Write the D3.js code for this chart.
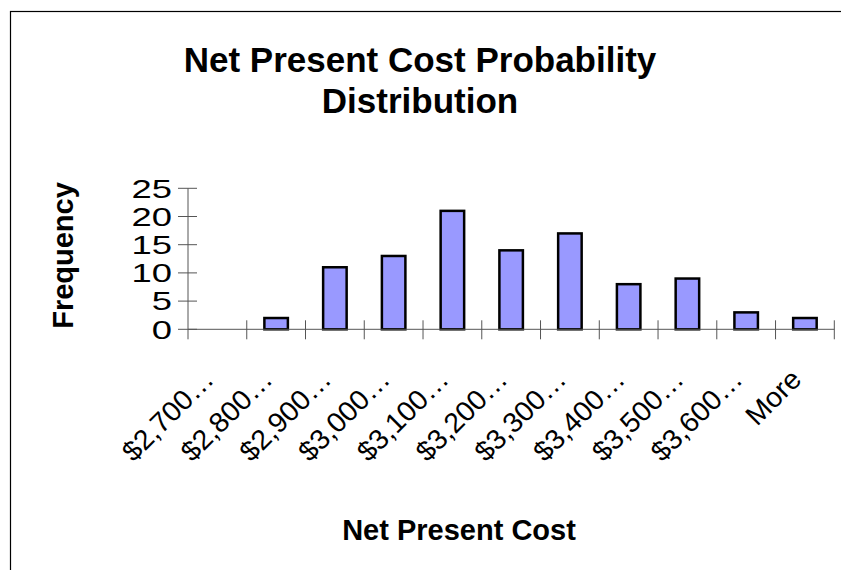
<!DOCTYPE html>
<html>
<head>
<meta charset="utf-8">
<script src="https://cdn.jsdelivr.net/npm/d3@7/dist/d3.min.js"></script>
<style>
  html, body { margin: 0; padding: 0; background: #fff; }
  svg { display: block; font-family: "Liberation Sans", Arial, sans-serif; }
</style>
</head>
<body>
<svg id="chart" width="841" height="570"></svg>
<script>
// Histogram bins (upper bound of each bin) and their counts
const bins = ["$2,700…", "$2,800…", "$2,900…", "$3,000…", "$3,100…", "$3,200…",
              "$3,300…", "$3,400…", "$3,500…", "$3,600…", "More"];
const frequency = [0, 2, 11, 13, 21, 14, 17, 8, 9, 3, 2];
const yTicks = [0, 5, 10, 15, 20, 25];
const titleLines = ["Net Present Cost Probability", "Distribution"];
const xTitle = "Net Present Cost";
const yTitle = "Frequency";

const svg = d3.select("#chart");

// chart area border (runs off the right and bottom edges)
svg.append("rect")
  .attr("x", 10.5).attr("y", 11.5)
  .attr("width", 900).attr("height", 700)
  .attr("fill", "none").attr("stroke", "#000").attr("stroke-width", 1.2);

const plot = { left: 188, right: 834.3, top: 188.3, bottom: 329.3 };

const band = d3.scaleBand().domain(bins).range([plot.left, plot.right]);
const y = d3.scaleLinear().domain([0, 25]).range([plot.bottom, plot.top]);

// bars
svg.append("g").selectAll("rect").data(frequency).join("rect")
  .attr("x", (d, i) => band(bins[i]) + band.bandwidth() * 0.3)
  .attr("width", band.bandwidth() * 0.4)
  .attr("y", d => y(d))
  .attr("height", d => y(0) - y(d))
  .attr("fill", "#9999ff")
  .attr("stroke", "#000").attr("stroke-width", 2.5)
  .style("display", d => d > 0 ? null : "none");

// y axis: line with ticks crossing it
const yAxis = svg.append("g").attr("transform", `translate(${plot.left},0)`);
yAxis.append("line").attr("y1", y(25)).attr("y2", plot.bottom + 10)
  .attr("stroke", "#555").attr("stroke-width", 1);
yAxis.selectAll("line.tick").data(yTicks).join("line").attr("class", "tick")
  .attr("x1", -10).attr("x2", 9).attr("y1", d => y(d)).attr("y2", d => y(d))
  .attr("stroke", "#555").attr("stroke-width", 1);
yAxis.selectAll("text").data(yTicks).join("text")
  .attr("transform", d => `translate(-16,${y(d)}) scale(1.4,1)`)
  .attr("dy", "0.36em")
  .attr("text-anchor", "end").attr("font-size", 26).text(d => d);

// x axis: baseline and category boundary ticks
const xAxis = svg.append("g");
xAxis.append("line").attr("x1", plot.left).attr("x2", plot.right)
  .attr("y1", plot.bottom).attr("y2", plot.bottom)
  .attr("stroke", "#555").attr("stroke-width", 1);
const bounds = bins.map(b => band(b)).concat([plot.right]);
xAxis.selectAll("line.tick").data(bounds.slice(1)).join("line").attr("class", "tick")
  .attr("x1", d => d).attr("x2", d => d)
  .attr("y1", plot.bottom - 9).attr("y2", plot.bottom + 10)
  .attr("stroke", "#555").attr("stroke-width", 1);
// slanted category labels ending under each bin centre
xAxis.selectAll("text").data(bins).join("text")
  .attr("transform", d => `translate(${band(d) + band.bandwidth() / 2 - 2},381) rotate(-45) scale(1.02,1)`)
  .attr("text-anchor", "end").attr("font-size", 28).text(d => d);

// titles
svg.append("g").selectAll("text").data(titleLines).join("text")
  .attr("x", 420).attr("y", (d, i) => 72 + i * 41)
  .attr("text-anchor", "middle").attr("font-size", 35).attr("font-weight", "bold")
  .text(d => d);
svg.append("text").attr("x", 459).attr("y", 540)
  .attr("text-anchor", "middle").attr("font-size", 29).attr("font-weight", "bold")
  .text(xTitle);
svg.append("text").attr("transform", "translate(73,255.5) rotate(-90)")
  .attr("text-anchor", "middle").attr("font-size", 29).attr("font-weight", "bold")
  .text(yTitle);
</script>
</body>
</html>
